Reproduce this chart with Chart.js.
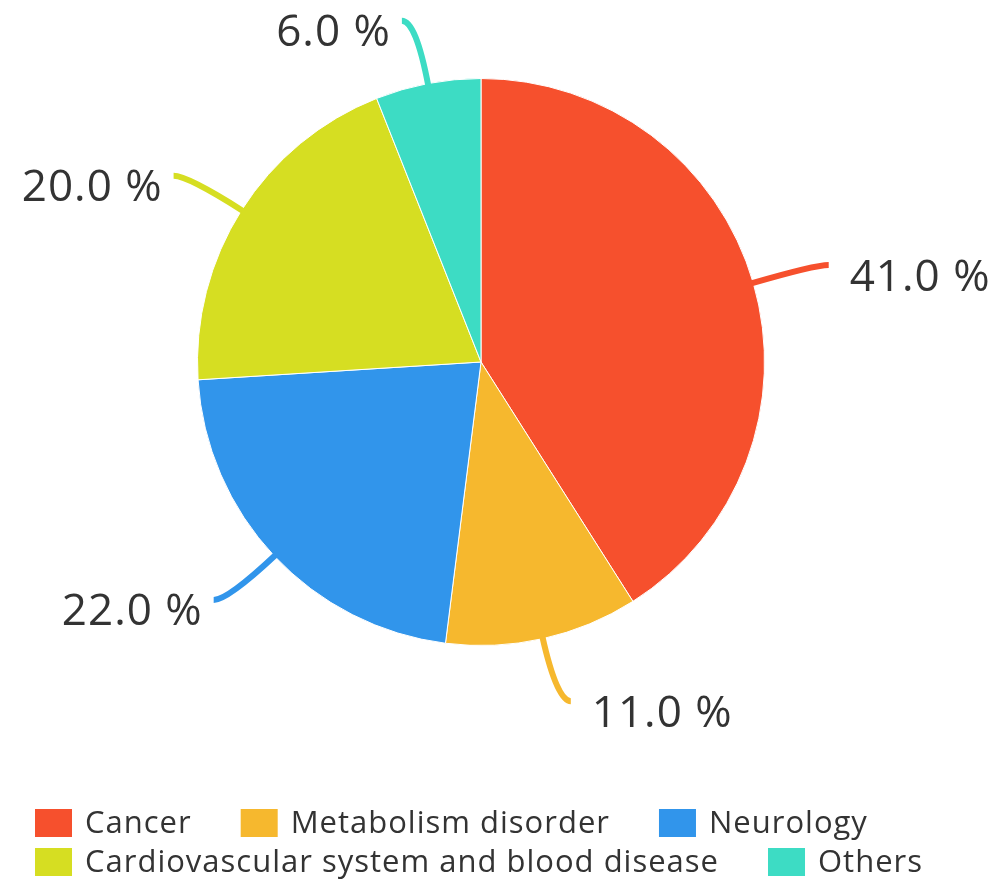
<!DOCTYPE html>
<html>
<head>
<meta charset="utf-8">
<script src="https://cdn.jsdelivr.net/npm/chart.js@4.4.1/dist/chart.umd.min.js"></script>
<style>
  html, body { margin: 0; padding: 0; background: #ffffff; }
  #wrap { width: 997px; height: 881px; }
</style>
</head>
<body>
<div id="wrap"><canvas id="c" width="997" height="881"></canvas></div>
<script>
const categories = ["Cancer", "Metabolism disorder", "Neurology", "Cardiovascular system and blood disease", "Others"];
const shares = [41.0, 11.0, 22.0, 20.0, 6.0];
const sliceColors = ["#F6502D", "#F6B82E", "#3195EB", "#D6DE22", "#3DDCC4"];

const TEXT_COLOR = "#333333";
const FONT_FAMILY = "'Open Sans', 'Noto Sans', sans-serif";

const leaderPlugin = {
  id: 'leaderLabels',
  afterDatasetsDraw(chart) {
    const ctx = chart.ctx;
    const meta = chart.getDatasetMeta(0);
    meta.data.forEach((arc, i) => {
      const p = arc.getProps(['x', 'y', 'startAngle', 'endAngle', 'outerRadius'], true);
      const mid = (p.startAngle + p.endAngle) / 2;
      const cx = Math.cos(mid), cy = Math.sin(mid);
      const R = p.outerRadius;
      const L = 64;
      const side = cx >= 0 ? 1 : -1;
      const x0 = p.x + cx * (R - 2), y0 = p.y + cy * (R - 2);
      const x1 = p.x + cx * (R + L), y1 = p.y + cy * (R + L);
      const x2 = x1 + side * 14, y2 = y1;
      ctx.save();
      ctx.strokeStyle = sliceColors[i];
      ctx.lineWidth = 6;
      ctx.lineCap = 'butt';
      ctx.beginPath();
      ctx.moveTo(x0, y0);
      ctx.quadraticCurveTo(x1, y1, x2, y2);
      ctx.stroke();
      ctx.fillStyle = TEXT_COLOR;
      ctx.font = "44px " + FONT_FAMILY;
      ctx.letterSpacing = "1px";
      ctx.textBaseline = 'middle';
      const txt = shares[i].toFixed(1) + " %";
      if (side > 0) {
        ctx.textAlign = 'left';
        ctx.fillText(txt, x2 + 21, y2 + 13);
      } else {
        ctx.textAlign = 'left';
        const w = ctx.measureText(txt).width - 1;
        ctx.fillText(txt, x2 - 12 - w, y2 + 13);
      }
      ctx.restore();
    });
  },
  afterDraw(chart) {
    const ctx = chart.ctx;
    ctx.save();
    ctx.font = "31px " + FONT_FAMILY;
    ctx.letterSpacing = "1px";
    ctx.textBaseline = 'middle';
    ctx.textAlign = 'left';
    const startX = 35, rowY = [823, 862], boxW = 37, boxH = 28, textGap = 13, itemGap = 49;
    let x = startX, row = 0;
    categories.forEach((name, i) => {
      const tw = ctx.measureText(name).width;
      const w = boxW + textGap + tw;
      if (x > startX && x + w > chart.width - 20) { row++; x = startX; }
      const y = rowY[Math.min(row, rowY.length - 1)];
      ctx.fillStyle = sliceColors[i];
      ctx.fillRect(x, y - boxH / 2, boxW, boxH);
      ctx.fillStyle = TEXT_COLOR;
      ctx.fillText(name, x + boxW + textGap, y + 1);
      x += w + itemGap;
    });
    ctx.restore();
  }
};

new Chart(document.getElementById('c'), {
  type: 'pie',
  data: {
    labels: categories,
    datasets: [{
      data: shares,
      backgroundColor: sliceColors,
      borderColor: '#ffffff',
      borderWidth: 1
    }]
  },
  options: {
    responsive: false,
    animation: false,
    layout: { padding: { left: 197, right: 232, top: 78, bottom: 235 } },
    plugins: {
      legend: { display: false },
      tooltip: { enabled: false }
    }
  },
  plugins: [leaderPlugin]
});
</script>
</body>
</html>
